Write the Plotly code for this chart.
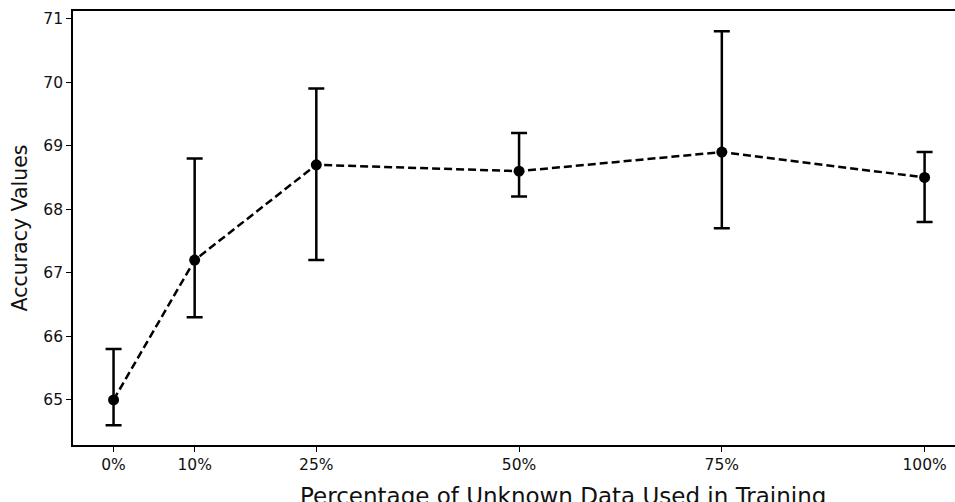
import plotly.graph_objects as go

# Data
x_pct = [0, 10, 25, 50, 75, 100]
x_labels = ["0%", "10%", "25%", "50%", "75%", "100%"]
accuracy = [65.0, 67.2, 68.7, 68.6, 68.9, 68.5]
err_upper = [65.8, 68.8, 69.9, 69.2, 70.8, 68.9]
err_lower = [64.6, 66.3, 67.2, 68.2, 67.7, 67.8]

err_plus = [u - a for u, a in zip(err_upper, accuracy)]
err_minus = [a - l for a, l in zip(accuracy, err_lower)]

FONT = "DejaVu Sans"

fig = go.Figure()
fig.add_trace(go.Scatter(
    x=x_pct, y=accuracy,
    mode="lines+markers",
    line=dict(color="black", width=2.5, dash="8px,4px"),
    marker=dict(color="black", size=11),
    error_y=dict(type="data", symmetric=False, array=err_plus, arrayminus=err_minus,
                 color="black", thickness=2.5, width=8),
    showlegend=False,
))

fig.add_annotation(
    text="Percentage of Unknown Data Used in Training",
    xref="paper", yref="paper", x=0.555, y=-0.083,
    xanchor="center", yanchor="top", showarrow=False,
    font=dict(family=FONT, size=23, color="#111"),
)

fig.update_layout(
    width=955, height=502,
    margin=dict(l=73, r=0, t=11, b=57),
    paper_bgcolor="white", plot_bgcolor="white",
    font=dict(family=FONT, color="black", size=15),
    xaxis=dict(
        range=[-5, 103.75], automargin=False,
        tickmode="array", tickvals=x_pct, ticktext=x_labels,
        ticks="outside", ticklen=5, tickwidth=1.3, tickcolor="black",
        showline=True, linecolor="black", linewidth=1.6, mirror=True,
        showgrid=False, zeroline=False,
        tickfont=dict(family=FONT, size=15.5, color="#111"),
    ),
    yaxis=dict(
        range=[64.29, 71.12], automargin=False,
        tickmode="array", tickvals=[65, 66, 67, 68, 69, 70, 71],
        ticks="outside", ticklen=5, tickwidth=1.3, tickcolor="black",
        showline=True, linecolor="black", linewidth=1.6, mirror=False,
        showgrid=False, zeroline=False,
        tickfont=dict(family=FONT, size=15.5, color="#111"),
        title=dict(text="Accuracy Values",
                   font=dict(family=FONT, size=20.5, color="#111"), standoff=10),
    ),
)

fig.write_html("out.html")
